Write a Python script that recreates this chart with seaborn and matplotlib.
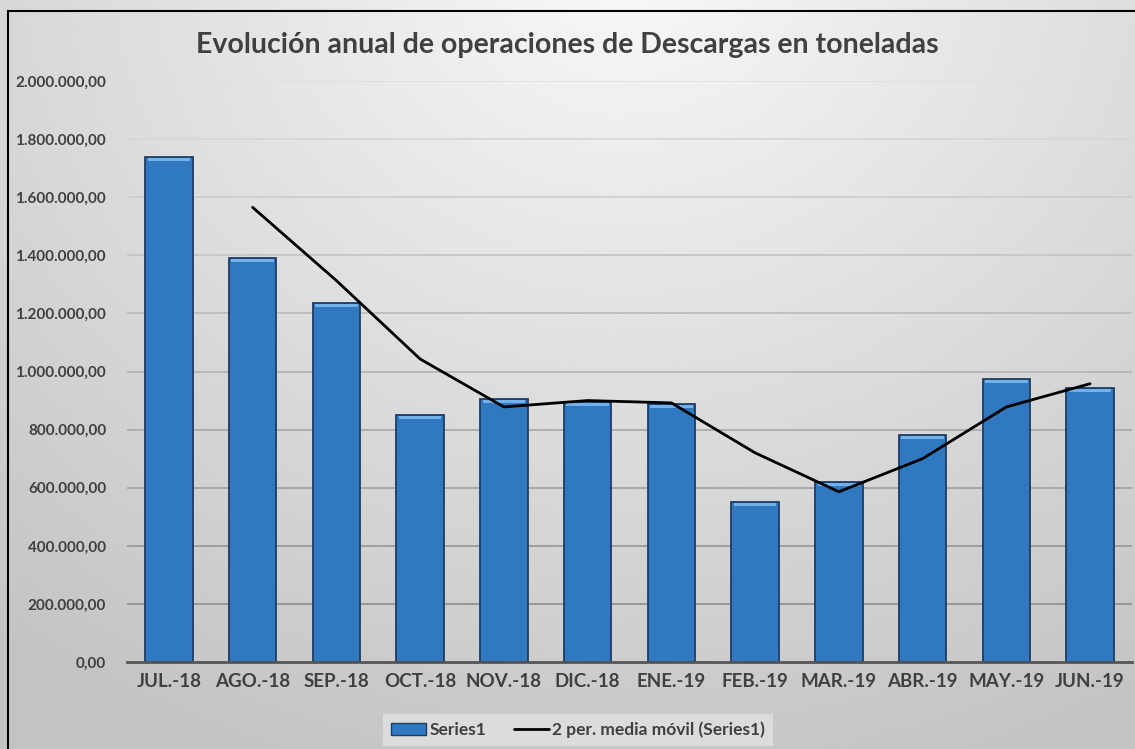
import matplotlib.pyplot as plt
import seaborn as sns
import numpy as np
from matplotlib.patches import Rectangle
from matplotlib.lines import Line2D
from matplotlib.ticker import FuncFormatter

# Data (toneladas)
meses = ["JUL.-18", "AGO.-18", "SEP.-18", "OCT.-18", "NOV.-18", "DIC.-18",
         "ENE.-19", "FEB.-19", "MAR.-19", "ABR.-19", "MAY.-19", "JUN.-19"]
descargas = [1738000, 1391000, 1236000, 850000, 905000, 895000,
             888000, 551000, 620000, 781000, 974000, 943000]
# 2-period moving average, starting at AGO.-18
media_movil = [1565000, 1313000, 1043000, 878000, 900000, 892000,
               720000, 586000, 700000, 878000, 958000]

sns.set_theme(style="white")
plt.rcParams['font.family'] = ['Lato', 'DejaVu Sans']

fig = plt.figure(figsize=(11.35, 7.49), dpi=100)

# Background radial gradient
bg = fig.add_axes([0, 0, 1, 1], zorder=-10)
yy, xx = np.mgrid[0:1:300j, 0:1:450j]
d = np.sqrt(((xx - 0.55) * 1.3) ** 2 + (yy - 1.05) ** 2)
d = np.clip(d / 1.15, 0, 1)
shade = 0.975 - 0.21 * d
bg.imshow(shade, cmap="gray", vmin=0, vmax=1, origin="lower",
          extent=[0, 1, 0, 1], aspect="auto", interpolation="bicubic")
bg.set_axis_off()

ax = fig.add_axes([127 / 1135, 1 - 662 / 749, 1005 / 1135, 581 / 749])
ax.patch.set_alpha(0)

# Gridlines, getting darker towards the bottom
for v in np.arange(200000, 2000001, 200000):
    t = v / 2000000
    c = str(0.52 + 0.35 * t)
    ax.axhline(v, color=c, lw=1.2, zorder=0)

sns.barplot(x=meses, y=descargas, ax=ax, color="#3079c1", width=0.57,
            edgecolor="#1e3d63", linewidth=1.3, saturation=1, zorder=2)

# bevel highlight on top of each bar
for p in ax.patches:
    h = p.get_height()
    ax.add_patch(Rectangle((p.get_x() + 0.03, h - 14000), p.get_width() - 0.06, 10000,
                           facecolor="#74b0ea", edgecolor="none", zorder=3))

sns.lineplot(x=np.arange(1, len(meses)), y=media_movil, ax=ax, color="black",
             lw=2, zorder=4)

ax.set_ylim(0, 2000000)
ax.set_xlim(-0.5, len(meses) - 0.5)
ax.yaxis.set_major_locator(plt.MultipleLocator(200000))
ax.yaxis.set_major_formatter(FuncFormatter(
    lambda v, _: f"{v:,.2f}".replace(",", "X").replace(".", ",").replace("X", ".")))
for s in ["top", "right", "left"]:
    ax.spines[s].set_visible(False)
ax.spines["bottom"].set_color("#555555")
ax.spines["bottom"].set_linewidth(2)
ax.set_xlabel("")
ax.set_ylabel("")
ax.tick_params(axis="y", length=0, pad=15, labelsize=11, labelcolor="#404040")
ax.tick_params(axis="x", length=0, pad=8, labelsize=13.5, labelcolor="#404040")
for lab in ax.get_xticklabels() + ax.get_yticklabels():
    lab.set_fontweight("bold")

fig.text(0.5, 1 - 45 / 749, "Evolución anual de operaciones de Descargas en toneladas",
         ha="center", va="center", fontsize=20.5, fontweight="bold", color="#404040")

handles = [Rectangle((0, 0), 1, 1, facecolor="#3079c1", edgecolor="#1e3d63"),
           Line2D([0], [0], color="black", lw=2)]
leg = fig.legend(handles, ["Series1", "2 per. media móvil (Series1)"],
                 loc="center", bbox_to_anchor=(578 / 1135, 1 - 730 / 749), ncol=2,
                 frameon=True, fancybox=False, handlelength=2.0, handletextpad=0.2,
                 columnspacing=1.6, borderpad=0.45,
                 prop={"weight": "bold", "size": 12.5})
leg.get_frame().set_facecolor("#e2e2e2")
leg.get_frame().set_edgecolor("none")
for t in leg.get_texts():
    t.set_color("#404040")

# Outer border
fig.add_artist(Rectangle((8 / 1135, -0.05), 1.1, 1 - 11 / 749 + 0.05,
                         transform=fig.transFigure, fill=False,
                         edgecolor="black", lw=1.5))

plt.savefig("out.png", dpi=100)
